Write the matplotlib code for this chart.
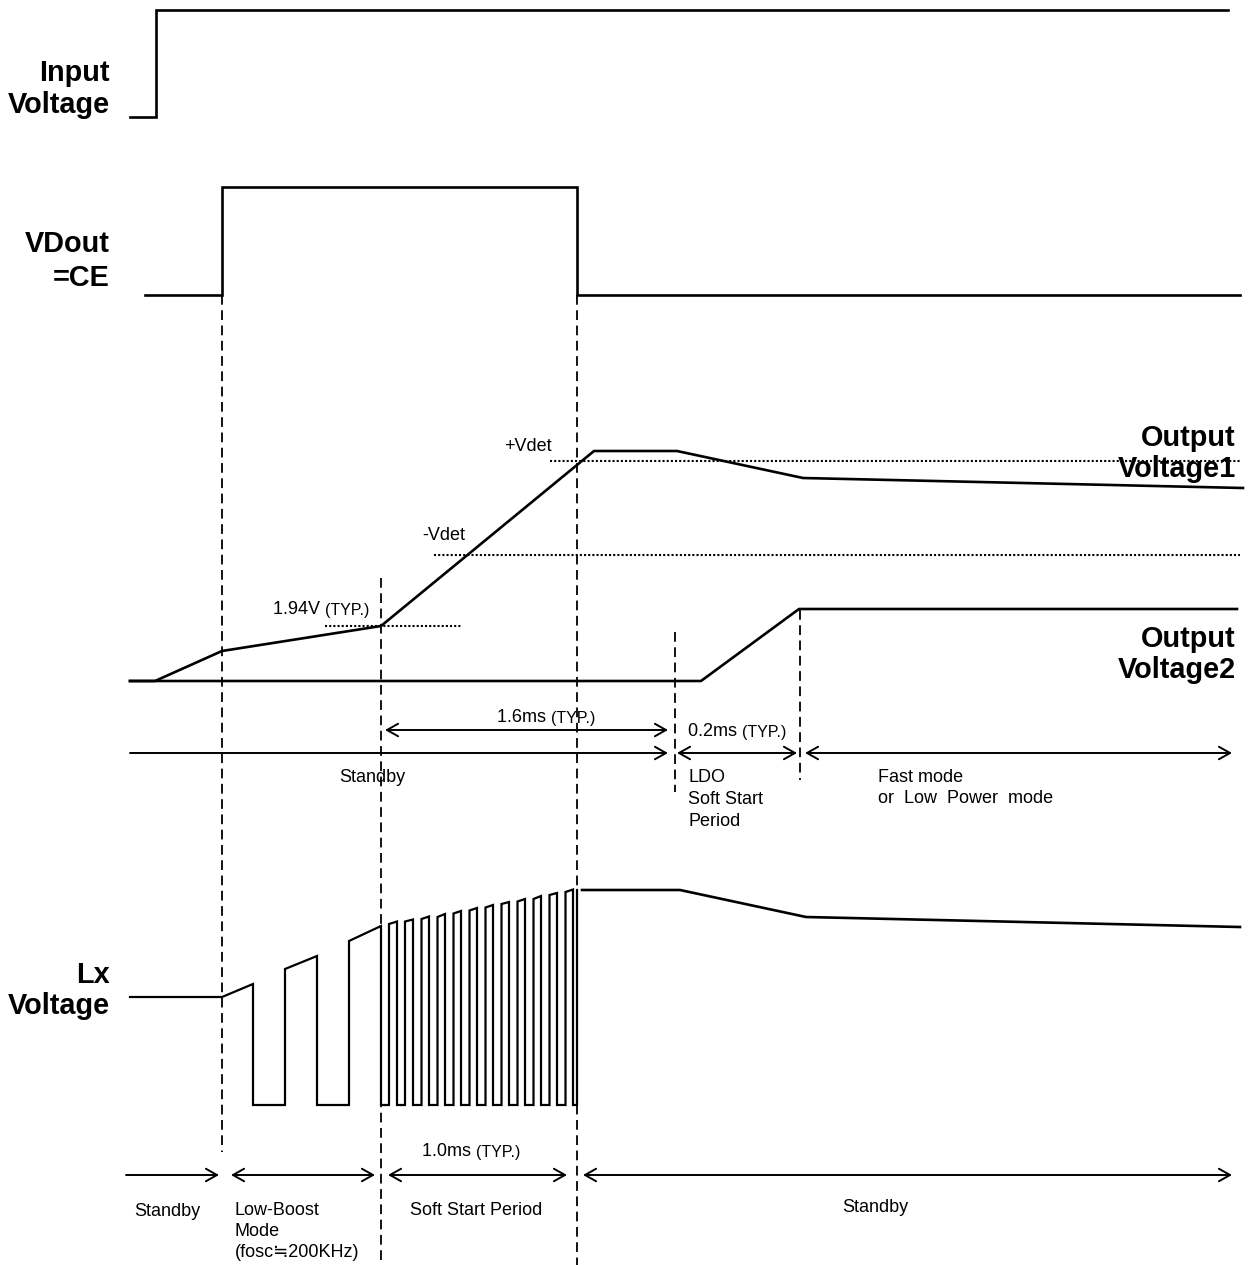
import matplotlib
matplotlib.use('Agg')
import matplotlib.pyplot as plt
from matplotlib.patches import FancyArrowPatch

plt.rcParams['font.family'] = ['Liberation Sans', 'DejaVu Sans', 'Noto Sans CJK JP']
plt.rcParams['lines.scale_dashes'] = False

# ---------------- waveform data (time axis / level axis in diagram units) ----------------
input_x = [130, 156, 156, 1228]
input_y = [117, 117, 10, 10]

vdout_x = [145, 222, 222, 577, 577, 1240]
vdout_y = [295, 295, 187, 187, 295, 295]

vout1_x = [130, 155, 222, 381, 594, 677, 803, 1243]
vout1_y = [681, 681, 651, 626, 451, 451, 478, 488]

vout2_x = [130, 701, 799, 1237]
vout2_y = [681, 681, 609, 609]

lx_boost_x = [130, 222, 253, 253, 285, 285, 317, 317, 349, 349, 381, 381]
lx_boost_y = [997, 997, 984, 1105, 1105, 969, 956, 1105, 1105, 941, 926, 1105]

pulse_rise_x = [389, 405, 421.5, 437.5, 453.5, 469.5, 485.5, 501.5, 517.5, 533.5, 549.5, 565.5]
pulse_fall_x = [397, 413, 429, 445, 461, 477, 493, 509, 525, 541, 557, 573]
pulse_top_l = [924, 921.5, 919, 917, 913.5, 910.5, 907.5, 904, 901.5, 899, 895, 892]
pulse_top_r = [921.5, 919.5, 916.5, 914, 911, 908, 905, 902, 899, 896, 893, 889.5]
lx_low = 1105
lx_last_x = [573, 577, 577]
lx_last_y = [1105, 1105, 890]
lx_tail_x = [582, 680, 806, 1240]
lx_tail_y = [890, 890, 917, 927]

# thresholds (level, start, end)
thr_levels = [461, 555, 626]
thr_start = [550, 434, 325]
thr_end = [1240, 1240, 462]

# timing markers (x, y_top, y_bottom)
mark_x = [222, 381, 577, 675, 800]
mark_top = [295, 578, 295, 632, 610]
mark_bot = [1152, 1265, 1265, 792, 780]

# arrows (x0, x1, y, style)
arrows = [
    (385, 668, 730, '<->'),
    (130, 668, 753, '->'),
    (677, 797, 753, '<->'),
    (805, 1232, 753, '<->'),
    (126, 219, 1175, '->'),
    (231, 375, 1175, '<->'),
    (388, 567, 1175, '<->'),
    (583, 1232, 1175, '<->'),
]

# signal names: (line text, x right edge, baseline)
signal_labels = [
    ("Input", 110, 81), ("Voltage", 110, 113),
    ("VDout", 110, 252), ("=CE", 110, 286),
    ("Output", 1236, 446), ("Voltage1", 1236, 477),
    ("Output", 1236, 647), ("Voltage2", 1236, 678),
    ("Lx", 110, 983), ("Voltage", 110, 1014),
]

# annotation lines: (text, x left, baseline)
small_texts = [
    ("+Vdet", 504, 451),
    ("-Vdet", 422, 540),
    ("Standby", 339, 782),
    ("LDO", 688, 782), ("Soft Start", 688, 804), ("Period", 688, 826),
    ("Fast mode", 878, 782), ("or  Low  Power  mode", 878, 803),
    ("Standby", 134, 1216),
    ("Low-Boost", 235, 1215), ("Mode", 235, 1236), ("(fosc\u2252200KHz)", 235, 1257),
    ("Soft Start Period", 410, 1215),
    ("Standby", 842, 1212),
]

typ_texts = [
    ("1.94V ", 273, 614),
    ("1.6ms ", 497, 722),
    ("0.2ms ", 688, 736),
    ("1.0ms ", 422, 1156),
]

# ---------------- drawing ----------------
fig = plt.figure(figsize=(12.5, 12.65), dpi=100)
ax = fig.add_axes([0, 0, 1, 1])
ax.set_xlim(0, 1250)
ax.set_ylim(1265, 0)
ax.axis('off')

LW = 1.9
ax.plot(input_x, input_y, color='black', lw=LW, solid_joinstyle='miter')
ax.plot(vdout_x, vdout_y, color='black', lw=LW, solid_joinstyle='miter')
ax.plot(vout1_x, vout1_y, color='black', lw=LW)
ax.plot(vout2_x, vout2_y, color='black', lw=LW)

lx_x = list(lx_boost_x)
lx_y = list(lx_boost_y)
for rx, fx, tl, tr in zip(pulse_rise_x, pulse_fall_x, pulse_top_l, pulse_top_r):
    lx_x += [rx, rx, fx, fx]
    lx_y += [lx_low, tl, tr, lx_low]
lx_x += lx_last_x
lx_y += lx_last_y
ax.plot(lx_x, lx_y, color='black', lw=1.6, solid_joinstyle='miter')
ax.plot(lx_tail_x, lx_tail_y, color='black', lw=LW)

for lvl, x0, x1 in zip(thr_levels, thr_start, thr_end):
    ax.plot([x0, x1], [lvl, lvl], color='black', lw=1.5, linestyle=(0, (1.5, 1.5)))

for mx, t, b in zip(mark_x, mark_top, mark_bot):
    ax.plot([mx, mx], [t, b], color='black', lw=1.3, linestyle=(0, (7, 4)))

for x0, x1, y, st in arrows:
    a = FancyArrowPatch((x0, y), (x1, y), arrowstyle=f'{st},head_length=0.8,head_width=0.45',
                        mutation_scale=10, lw=1.4, color='black', shrinkA=0, shrinkB=0)
    ax.add_patch(a)

for txt, x, y in signal_labels:
    ax.text(x, y, txt, fontsize=20.8, fontweight='bold', ha='right', va='baseline')

for txt, x, y in small_texts:
    ax.text(x, y, txt, fontsize=13, ha='left', va='baseline')

for txt, x, y in typ_texts:
    t1 = ax.text(x, y, txt, fontsize=13, ha='left', va='baseline')
    ax.annotate("(TYP.)", xy=(1, 0), xycoords=t1, fontsize=11.5, ha='left', va='bottom')

fig.savefig('out.png', dpi=100)
